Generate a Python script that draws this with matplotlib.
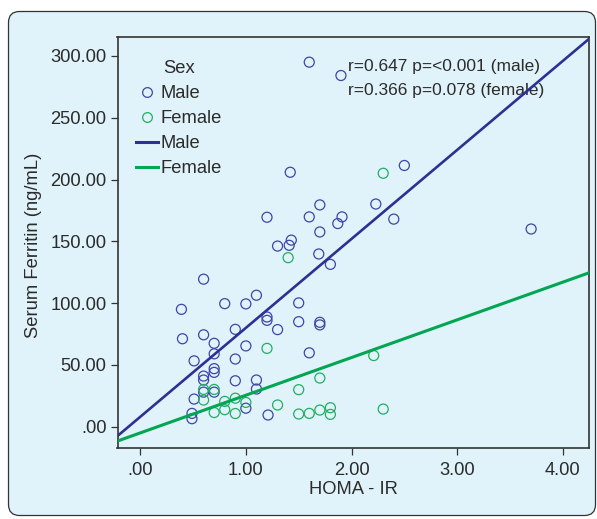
import matplotlib
matplotlib.use("Agg")
import matplotlib.pyplot as plt
import numpy as np
from matplotlib.lines import Line2D
from matplotlib.patches import FancyBboxPatch
from matplotlib.transforms import IdentityTransform

plt.rcParams['font.family'] = ['Liberation Sans', 'DejaVu Sans']

# ---- data ----
male_x = [0.39, 0.40, 0.49, 0.49, 0.51, 0.51, 0.60, 0.60, 0.60, 0.60, 0.60,
          0.70, 0.70, 0.70, 0.70, 0.70, 0.80, 0.90, 0.90, 0.90, 1.00, 1.00,
          1.00, 1.10, 1.10, 1.10, 1.20, 1.20, 1.20, 1.21, 1.30, 1.30, 1.41,
          1.42, 1.43, 1.50, 1.50, 1.60, 1.60, 1.60, 1.69, 1.70, 1.70, 1.70,
          1.70, 1.80, 1.87, 1.90, 1.91, 2.23, 2.40, 2.50, 3.70]
male_y = [95.0, 71.2, 10.8, 6.5, 53.3, 22.4, 119.4, 74.4, 41.0, 37.8, 28.0,
          67.5, 59.0, 47.0, 44.0, 28.0, 99.6, 78.8, 54.8, 37.2, 99.4, 65.4,
          15.0, 106.4, 37.8, 30.5, 169.5, 88.8, 86.1, 9.5, 146.2, 78.6, 146.8,
          205.9, 151.0, 100.2, 85.0, 295.0, 169.8, 59.8, 139.8, 179.5, 157.6, 84.5,
          82.4, 131.4, 164.4, 284.2, 169.8, 180.2, 168.0, 211.4, 160.0]

female_x = [0.60, 0.60, 0.70, 0.70, 0.80, 0.80, 0.90, 0.90, 1.00, 1.20, 1.30,
            1.40, 1.50, 1.50, 1.60, 1.70, 1.70, 1.80, 1.80, 2.21, 2.30, 2.30]
female_y = [30.2, 21.6, 30.2, 11.5, 20.5, 13.8, 23.1, 10.7, 19.7, 63.4, 17.6,
            136.8, 30.0, 10.3, 10.8, 39.4, 13.5, 15.4, 10.0, 57.6, 205.1, 14.3]

# regression lines (intercept, slope)
male_fit = (8.0, 72.0)
female_fit = (-5.0, 30.5)

x_ticks = [0, 1, 2, 3, 4]
x_tick_labels = ['.00', '1.00', '2.00', '3.00', '4.00']
y_ticks = [0, 50, 100, 150, 200, 250, 300]
y_tick_labels = ['.00', '50.00', '100.00', '150.00', '200.00', '250.00', '300.00']

annot_lines = ['r=0.647 p=<0.001 (male)', 'r=0.366 p=0.078 (female)']

# ---- style ----
W, H = 597, 519
bg = '#E1F3FA'
txt = '#2b2b2b'
c_male_line = '#2E3192'
c_female_line = '#00A651'
c_male_pt = '#3D46A6'
c_female_pt = '#22AE62'
fs = 13.2

fig = plt.figure(figsize=(W / 100, H / 100), dpi=100)
fig.patch.set_facecolor('white')

panel = FancyBboxPatch((8.5, 3.5), 587, 504, boxstyle='round,pad=0,rounding_size=11',
                       transform=IdentityTransform(), facecolor=bg,
                       edgecolor='#333333', linewidth=0.9, zorder=-10)
fig.patches.append(panel)

ax = fig.add_axes([117.5 / W, 1 - 448 / H, 471 / W, 411.3 / H])
ax.set_facecolor(bg)
ax.patch.set_alpha(0)

xlim = (-0.215, 4.243)
ylim = (-17.2, 315.6)
ax.set_xlim(*xlim)
ax.set_ylim(*ylim)

ax.scatter(male_x, male_y, s=52, facecolors='none', edgecolors=c_male_pt,
           linewidths=0.9, zorder=3)
ax.scatter(female_x, female_y, s=52, facecolors='none', edgecolors=c_female_pt,
           linewidths=0.9, zorder=3)

xs = np.array(xlim)
ax.plot(xs, male_fit[0] + male_fit[1] * xs, color=c_male_line, lw=1.9, zorder=4)
ax.plot(xs, female_fit[0] + female_fit[1] * xs, color=c_female_line, lw=2.2, zorder=4)

ax.set_xticks(x_ticks)
ax.set_xticklabels(x_tick_labels)
ax.set_yticks(y_ticks)
ax.set_yticklabels(y_tick_labels)
ax.tick_params(axis='both', direction='out', length=5, width=0.9, color='#333333',
               labelsize=fs, labelcolor=txt, pad=3)
ax.tick_params(axis='x', pad=5)
for s in ax.spines.values():
    s.set_color('#333333')
    s.set_linewidth(1.2)

fig.text(34 / W, 1 - 245 / H, 'Serum Ferritin (ng/mL)', rotation=90, ha='center',
         va='center', fontsize=fs, color=txt)
fig.text(353 / W, 1 - 490 / H, 'HOMA - IR', ha='center', va='center',
         fontsize=fs, color=txt)

handles = [
    Line2D([], [], ls='none', marker='o', ms=7, mfc='none', mec=c_male_pt, mew=0.9),
    Line2D([], [], ls='none', marker='o', ms=7, mfc='none', mec=c_female_pt, mew=0.9),
    Line2D([], [], color=c_male_line, lw=2.2),
    Line2D([], [], color=c_female_line, lw=2.2),
]
labels = ['Male', 'Female', 'Male', 'Female']
leg = ax.legend(handles, labels, title='Sex', loc='upper left',
                bbox_to_anchor=((136 - 117.5) / 471, (448 - 60) / 411.3),
                frameon=False, fontsize=fs, title_fontsize=fs,
                handlelength=1.2, handletextpad=0.15, labelspacing=0.44,
                borderpad=0, borderaxespad=0)
for t in leg.get_texts():
    t.set_color(txt)
leg.get_title().set_color(txt)

for i, line in enumerate(annot_lines):
    ax.text((348 - 117.5) / 471, (448 - (66 + 24 * i)) / 411.3, line,
            transform=ax.transAxes, ha='left', va='center', fontsize=12.5,
            color=txt)

fig.savefig('out.png', dpi=100, facecolor='white')
